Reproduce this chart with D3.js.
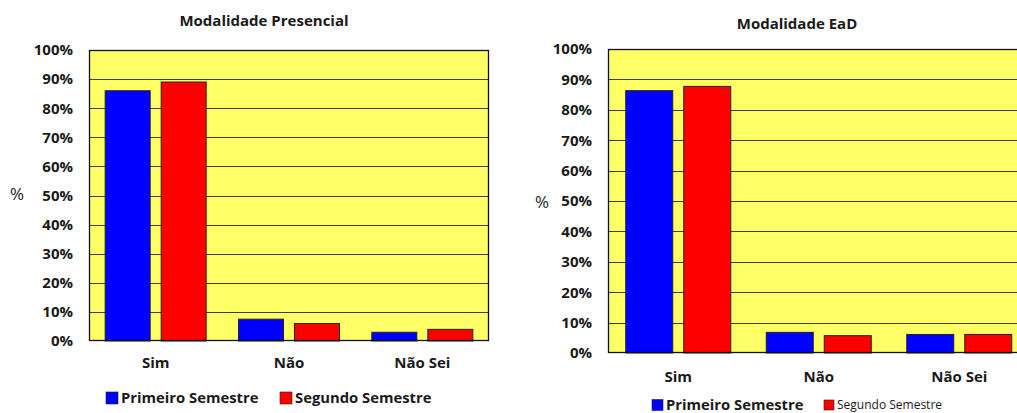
<!DOCTYPE html>
<html>
<head>
<meta charset="utf-8">
<script src="https://cdn.jsdelivr.net/npm/d3@7/dist/d3.min.js"></script>
<style>
  html, body { margin: 0; padding: 0; background: #ffffff; }
  svg { display: block; }
  text { font-family: "Open Sans", sans-serif; fill: #1a1a1a; }
</style>
</head>
<body>
<svg id="chart" width="1017" height="413"></svg>
<script>
// Answer categories and tick labels shared by both panels
const categories = ["Sim", "Não", "Não Sei"];
const seriesNames = ["Primeiro Semestre", "Segundo Semestre"];
const tickValues = [0, 10, 20, 30, 40, 50, 60, 70, 80, 90, 100];

// Percentages per semester, presencial mode
const presencialPrimeiro = [86, 7.5, 3];
const presencialSegundo = [89, 6, 4];

// Percentages per semester, distance (EaD) mode
const eadPrimeiro = [86.3, 6.8, 6.1];
const eadSegundo = [87.7, 5.7, 6.1];

const colors = ["#0000ff", "#ff0000"];

const svg = d3.select("#chart");

function drawPanel(cfg) {
  const g = svg.append("g");
  const y = d3.scaleLinear().domain([0, 100]).range([cfg.bottom, cfg.top]);
  const x0 = d3.scaleBand().domain(categories).range([cfg.left, cfg.right]).padding(0);
  const groupW = cfg.barW * 2 + cfg.gap;
  const x1 = d3.scaleBand().domain(seriesNames)
    .range([(x0.bandwidth() - groupW) / 2, (x0.bandwidth() + groupW) / 2])
    .paddingInner(cfg.gap / (cfg.barW + cfg.gap));

  // plot background
  g.append("rect")
    .attr("x", cfg.left).attr("y", cfg.top)
    .attr("width", cfg.right - cfg.left).attr("height", cfg.bottom - cfg.top)
    .attr("fill", "#ffff66");

  // horizontal grid lines
  g.append("g").selectAll("line").data(tickValues.slice(1, -1)).join("line")
    .attr("x1", cfg.left).attr("x2", cfg.right)
    .attr("y1", d => Math.round(y(d)) + 0.5).attr("y2", d => Math.round(y(d)) + 0.5)
    .attr("stroke", "#3f3c2c").attr("stroke-width", 1.2);

  // y axis tick labels
  const yAxis = d3.axisLeft(y).tickValues(tickValues).tickFormat(d => d + "%").tickSize(0).tickPadding(0);
  const ya = g.append("g").attr("transform", `translate(${cfg.labelX},0)`).call(yAxis);
  ya.select(".domain").remove();
  ya.selectAll("text")
    .style("font-family", "'Open Sans', sans-serif")
    .style("font-weight", "bold").style("font-size", "15px").attr("fill", "#1a1a1a");

  // bars
  const data = [cfg.primeiro, cfg.segundo];
  categories.forEach((c, i) => {
    seriesNames.forEach((s, j) => {
      g.append("rect")
        .attr("x", x0(c) + x1(s))
        .attr("y", y(data[j][i]))
        .attr("width", x1.bandwidth())
        .attr("height", y(0) - y(data[j][i]))
        .attr("fill", colors[j])
        .attr("stroke", "#222").attr("stroke-width", 1);
    });
  });

  // plot border
  g.append("rect")
    .attr("x", cfg.left + 0.5).attr("y", cfg.top + 0.5)
    .attr("width", cfg.right - cfg.left - 1).attr("height", cfg.bottom - cfg.top - 1)
    .attr("fill", "none").attr("stroke", "#111").attr("stroke-width", 1.3);

  // x axis category labels
  const xAxis = d3.axisBottom(x0).tickSize(0).tickPadding(0);
  const xa = g.append("g").attr("transform", `translate(0,${cfg.catY})`).call(xAxis);
  xa.select(".domain").remove();
  xa.selectAll("text")
    .style("font-family", "'Open Sans', sans-serif")
    .style("font-weight", "bold").style("font-size", "15px").attr("fill", "#1a1a1a")
    .attr("dy", "0.35em");

  // title
  g.append("text").attr("x", cfg.titleX).attr("y", cfg.titleY)
    .attr("text-anchor", "middle").attr("dy", "0.35em")
    .style("font-weight", "bold").style("font-size", "15px").text(cfg.title);

  // y label
  g.append("text").attr("x", cfg.pctX).attr("y", cfg.pctY)
    .attr("text-anchor", "middle").attr("dy", "0.35em")
    .style("font-weight", "normal").style("font-size", "17px").text("%");

  // legend
  cfg.legend.forEach((l, j) => {
    g.append("rect").attr("x", l.x).attr("y", cfg.legendY - l.size / 2)
      .attr("width", l.size).attr("height", l.size)
      .attr("fill", colors[j]).attr("stroke", "#222").attr("stroke-width", 0.6);
    g.append("text").attr("x", l.x + l.size + 3).attr("y", cfg.legendY)
      .attr("dy", "0.35em")
      .style("font-weight", l.bold ? "bold" : "normal")
      .style("font-size", l.font + "px")
      .text(seriesNames[j]);
  });
}

drawPanel({
  title: "Modalidade Presencial", titleX: 264, titleY: 21,
  left: 89, right: 489, top: 50, bottom: 341,
  barW: 45, gap: 11,
  labelX: 73, catY: 363,
  pctX: 17, pctY: 194,
  primeiro: presencialPrimeiro, segundo: presencialSegundo,
  legendY: 398,
  legend: [
    { x: 106, size: 12, bold: true, font: 14.8 },
    { x: 280, size: 12, bold: true, font: 14.8 }
  ]
});

drawPanel({
  title: "Modalidade EaD", titleX: 797, titleY: 24,
  left: 608, right: 1029.5, top: 49, bottom: 353,
  barW: 47, gap: 11,
  labelX: 592, catY: 377,
  pctX: 542, pctY: 202,
  primeiro: eadPrimeiro, segundo: eadSegundo,
  legendY: 405,
  legend: [
    { x: 652, size: 11, bold: true, font: 14.8 },
    { x: 824, size: 10, bold: false, font: 12 }
  ]
});
</script>
</body>
</html>
